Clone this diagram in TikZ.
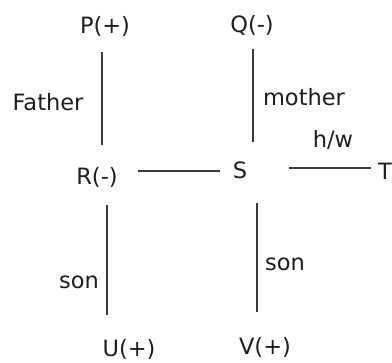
\documentclass[tikz,border=0pt]{standalone}
\usepackage{fontspec}
\setmainfont{DejaVu Sans}
\definecolor{txt}{HTML}{1E1E1E}
\definecolor{ln}{HTML}{3A3A3A}
\begin{document}
\begin{tikzpicture}[x=1pt,y=-1pt,
  lbl/.style={anchor=base,inner sep=0pt,text=txt,font=\fontsize{22.5}{26}\selectfont},
  rel/.style={draw=ln,line width=1.6pt}]
\useasboundingbox (0,0) rectangle (392,363);
\node[lbl] (P) at (105,34) {P(+)};
\node[lbl] (Q) at (252,33) {Q(-)};
\node[lbl] (father) at (48,111) {Father};
\node[lbl] (mother) at (304,106) {mother};
\node[lbl] (hw) at (333,148) {h/w};
\node[lbl] (R) at (97,185) {R(-)};
\node[lbl] (S) at (240,179) {S};
\node[lbl] (T) at (385,180) {T};
\node[lbl] (sonL) at (79,289) {son};
\node[lbl] (sonR) at (285,271) {son};
\node[lbl] (U) at (129,357) {U(+)};
\node[lbl] (V) at (265,355) {V(+)};
\coordinate (pr1) at (102,52); \coordinate (pr2) at (102,145);
\coordinate (qs1) at (253,49); \coordinate (qs2) at (253,142);
\coordinate (rs1) at (138,171); \coordinate (rs2) at (220,171);
\coordinate (st1) at (289,168); \coordinate (st2) at (371,168);
\coordinate (ru1) at (107,205); \coordinate (ru2) at (107,315);
\coordinate (sv1) at (257,203); \coordinate (sv2) at (257,312);
\draw[rel] (pr1) -- (pr2);
\draw[rel] (qs1) -- (qs2);
\draw[rel] (rs1) -- (rs2);
\draw[rel] (st1) -- (st2);
\draw[rel] (ru1) -- (ru2);
\draw[rel] (sv1) -- (sv2);
\end{tikzpicture}
\end{document}
